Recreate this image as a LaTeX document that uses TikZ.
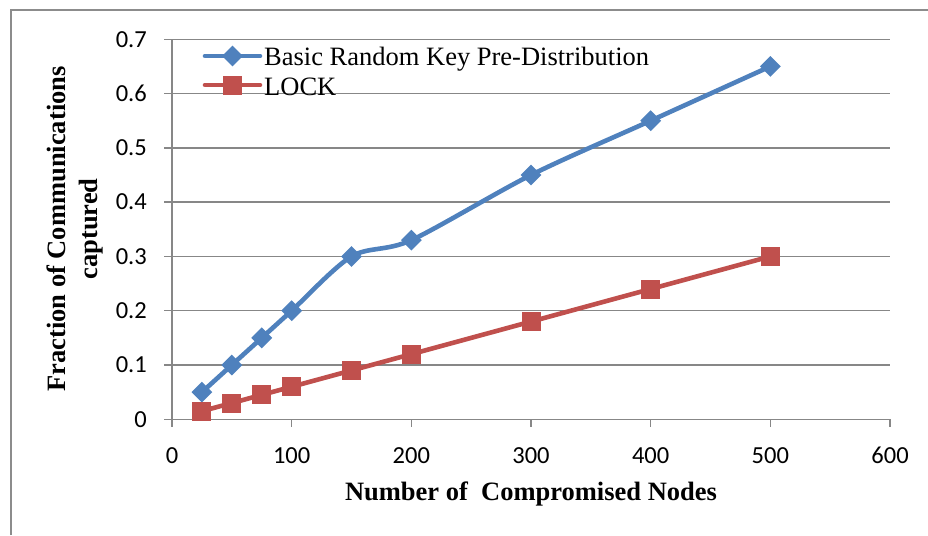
\documentclass[tikz,border=0pt]{standalone}
\usepackage{fontspec}
\setmainfont{Liberation Serif}
\newfontfamily\tickfont{Carlito}
\usetikzlibrary{shapes.geometric,calc}
\definecolor{BasicBlue}{HTML}{4F81BD}
\definecolor{LockRed}{HTML}{C0504D}
\definecolor{GridGray}{HTML}{878787}
\definecolor{FrameGray}{HTML}{8C8C8C}

\begin{document}
\begin{tikzpicture}[x=1pt,y=-1pt,
      grid/.style={draw=GridGray,line width=1.3pt},
      basic/.style={draw=BasicBlue,line width=4.6pt,line cap=round,line join=round},
      lock/.style={draw=LockRed,line width=4.6pt,line cap=round,line join=round},
      bmark/.style={diamond,fill=BasicBlue,inner sep=0pt,minimum size=21pt},
      rmark/.style={rectangle,fill=LockRed,inner sep=0pt,minimum size=19pt},
      ticklab/.style={font=\tickfont\fontsize{24.5}{28}\selectfont,inner sep=0pt},
      leg/.style={font=\fontsize{26.5}{32}\selectfont,inner sep=0pt,anchor=base west},
      axlab/.style={font=\bfseries\fontsize{26.5}{32}\selectfont,inner sep=0pt,align=center},
    ]
    \useasboundingbox (0,0) rectangle (928,535);
    % outer frame (cut off at right and bottom)
    \draw[FrameGray,line width=2pt] (11,535) -- (11,10) -- (928,10);

    \begin{scope}[shift={(172,419.3)},x=1.1967pt,y=542.9pt]
      % grid and y ticks
      \foreach \v in {0,0.1,0.2,0.3,0.4,0.5,0.6,0.7}{
        \draw[grid] ([xshift=-8pt]0,\v) -- (600,\v);
        \node[ticklab,anchor=east] at ([xshift=-25pt]0,\v) {\v};
      }
      \draw[grid] (0,0) -- (0,0.7);
      % x ticks
      \foreach \x in {0,100,...,600}{
        \draw[grid] (\x,0) -- ([yshift=-8pt]\x,0);
        \node[ticklab,anchor=base] at ([yshift=-44pt]\x,0) {\x};
      }

      % data
      \foreach \n/\x/\y in {1/25/0.05,2/50/0.1,3/75/0.15,4/100/0.2,5/150/0.3,
                            6/200/0.33,7/300/0.45,8/400/0.55,9/500/0.65}
        \coordinate (b\n) at (\x,\y);
      \foreach \n/\x/\y in {1/25/0.015,2/50/0.03,3/75/0.045,4/100/0.06,5/150/0.09,
                            6/200/0.12,7/300/0.18,8/400/0.24,9/500/0.3}
        \coordinate (r\n) at (\x,\y);

      \draw[basic] plot[smooth,tension=0.5] coordinates
        {(b1) (b2) (b3) (b4) (b5) (b6) (b7) (b8) (b9)};
      \draw[lock] (r1) -- (r2) -- (r3) -- (r4) -- (r5) -- (r6) -- (r7) -- (r8) -- (r9);
      \foreach \n in {1,...,9}{
        \node[bmark] (bm\n) at (b\n) {};
        \node[rmark] (rm\n) at (r\n) {};
      }
    \end{scope}

    % legend
    \coordinate (lb1) at (205,56);  \coordinate (lb2) at (260,56);
    \coordinate (lr1) at (205,85);  \coordinate (lr2) at (260,85);
    \draw[basic] (lb1) -- (lb2);
    \node[bmark] (lbm) at ($(lb1)!0.5!(lb2)$) {};
    \draw[lock] (lr1) -- (lr2);
    \node[rmark] (lrm) at ($(lr1)!0.5!(lr2)$) {};
    \node[leg] (lbt) at (264,66) {Basic Random Key Pre-Distribution};
    \node[leg] (lrt) at (264,95) {LOCK};

    % axis titles
    \node[axlab,anchor=base] (xt) at (531,500) {Number of\ \ Compromised Nodes};
    \node[axlab,rotate=90] (yt) at (75,229) {Fraction of Communications\\captured};
  \end{tikzpicture}
\end{document}
